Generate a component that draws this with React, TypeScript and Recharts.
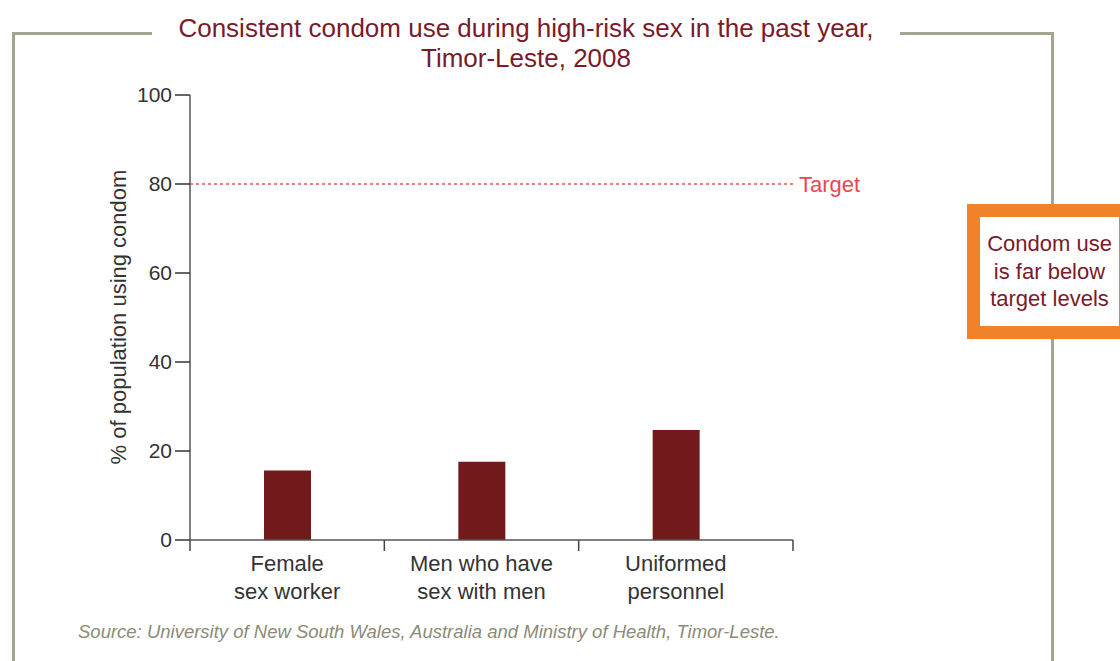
import { Bar, BarChart, ReferenceLine, XAxis, YAxis } from "recharts"

const categories = ["Female\nsex worker", "Men who have\nsex with men", "Uniformed\npersonnel"]
const condomUse = [15.6, 17.6, 24.7]
const yTicks = [0, 20, 40, 60, 80, 100]
const targetValue = 80

const data = categories.map((name, i) => ({ name, value: condomUse[i] }))

const FONT = '"Liberation Sans", Arial, Helvetica, sans-serif'
const DARK_RED = "#7a1a2a"
const X_PAD_RIGHT = 20

function CategoryTick(props: any) {
    const { x, y, payload, index } = props
    const half = payload.offset ?? 97
    const lines = String(payload.value).split("\n")
    const isLast = index === categories.length - 1
    const endX = x + half + X_PAD_RIGHT
    return (
        <g>
            <line x1={x - half} x2={x - half} y1={y} y2={y + 11} stroke="#444" strokeWidth={1.5} />
            {isLast && <line x1={endX} x2={endX} y1={y} y2={y + 11} stroke="#444" strokeWidth={1.5} />}
            <text x={x} y={y + 31} textAnchor="middle" fill="#333" fontSize={22} fontFamily={FONT}>
                {lines.map((line, i) => (
                    <tspan key={i} x={x} dy={i === 0 ? 0 : 28}>
                        {line}
                    </tspan>
                ))}
            </text>
        </g>
    )
}

export default function App() {
    return (
        <div
            style={{
                position: "absolute",
                left: 0,
                top: 0,
                width: 1120,
                height: 661,
                overflow: "hidden",
                background: "#fff",
                fontFamily: FONT,
            }}
        >
            {/* frame */}
            <div
                style={{
                    position: "absolute",
                    left: 12,
                    top: 32,
                    width: 1036,
                    height: 700,
                    border: "3px solid #a5a491",
                    borderBottom: "none",
                }}
            />
            {/* title */}
            <div
                style={{
                    position: "absolute",
                    left: 152,
                    top: 13,
                    width: 748,
                    textAlign: "center",
                    background: "#fff",
                    color: DARK_RED,
                    fontSize: 26,
                    lineHeight: "30px",
                }}
            >
                Consistent condom use during high-risk sex in the past year,
                <br />
                Timor-Leste, 2008
            </div>

            <div style={{ position: "absolute", left: 0, top: 0 }}>
                <BarChart
                    width={1120}
                    height={661}
                    data={data}
                    margin={{ top: 95, right: 327, bottom: 21, left: 100 }}
                    style={{ fontFamily: FONT }}
                >
                    <XAxis
                        dataKey="name"
                        height={100}
                        padding={{ left: 0, right: X_PAD_RIGHT }}
                        tickLine={false}
                        tickSize={0}
                        tickMargin={0}
                        axisLine={{ stroke: "#555", strokeWidth: 1.5 }}
                        tick={<CategoryTick />}
                        interval={0}
                    />
                    <YAxis
                        width={90}
                        domain={[0, 100]}
                        ticks={yTicks}
                        tickSize={15}
                        tickMargin={3}
                        axisLine={{ stroke: "#555", strokeWidth: 1.5 }}
                        tickLine={{ stroke: "#333", strokeWidth: 1.5 }}
                        tick={{ fill: "#333", fontSize: 21 }}
                        label={() => (
                            <text
                                x={118}
                                y={317}
                                transform="rotate(-90 118 317)"
                                textAnchor="middle"
                                dominantBaseline="central"
                                fill="#333"
                                fontSize={22}
                                fontFamily={FONT}
                            >
                                % of population using condom
                            </text>
                        )}
                    />
                    <ReferenceLine
                        y={targetValue}
                        stroke="#ee5555"
                        strokeWidth={1.5}
                        strokeDasharray="3 3"
                        label={{ value: "Target", position: "right", fill: "#e8474f", fontSize: 22, offset: 6 }}
                    />
                    <Bar dataKey="value" fill="#721a1b" barSize={47} isAnimationActive={false} />
                </BarChart>
            </div>

            {/* callout */}
            <div
                style={{
                    position: "absolute",
                    left: 967,
                    top: 204,
                    width: 139,
                    height: 109,
                    border: "13px solid #f0822a",
                    background: "#fff",
                    display: "flex",
                    alignItems: "center",
                    justifyContent: "center",
                    textAlign: "center",
                    color: DARK_RED,
                    fontSize: 22,
                    lineHeight: "27.5px",
                }}
            >
                Condom use
                <br />
                is far below
                <br />
                target levels
            </div>

            {/* source */}
            <div
                style={{
                    position: "absolute",
                    left: 78,
                    top: 620,
                    fontSize: 18.5,
                    lineHeight: "24px",
                    fontStyle: "italic",
                    color: "#8b8b78",
                    whiteSpace: "nowrap",
                }}
            >
                Source: University of New South Wales, Australia and Ministry of Health, Timor-Leste.
            </div>
        </div>
    )
}
